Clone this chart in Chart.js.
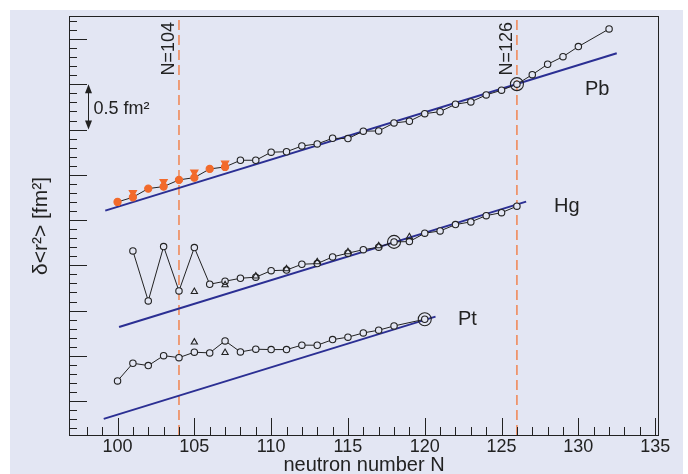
<!DOCTYPE html>
<html>
<head>
<meta charset="utf-8">
<script src="https://cdn.jsdelivr.net/npm/chart.js@4.4.1/dist/chart.umd.min.js"></script>
<style>
  html, body { margin: 0; padding: 0; background: #fff; }
  #wrap { width: 688px; height: 474px; }
</style>
</head>
<body>
<div id="wrap"><canvas id="c" width="688" height="474"></canvas></div>
<script>
// Data (delta <r^2> in fm^2, arbitrary offsets per element)
const xTickLabels = [100, 105, 110, 115, 120, 125, 130, 135];

const pbN  = [100, 101, 102, 103, 104, 105, 106, 107, 108, 109, 110, 111, 112, 113, 114, 115,
              116, 117, 118, 119, 120, 121, 122, 123, 124, 125, 126, 127, 128, 129, 130, 132];
const pbR2 = [2.700, 2.752, 2.848, 2.870, 2.944, 2.969, 3.065, 3.087, 3.161, 3.161, 3.250, 3.255,
              3.319, 3.341, 3.404, 3.400, 3.482, 3.485, 3.573, 3.592, 3.676, 3.698, 3.780, 3.806,
              3.883, 3.935, 4.002, 4.107, 4.222, 4.306, 4.417, 4.612];
const pbIsoN  = [101, 103, 105, 107];
const pbIsoR2 = [2.803, 2.925, 3.029, 3.128];
const pbFitN  = [99.2, 132.5];
const pbFit   = [2.604, 4.344];

const hgN  = [101, 102, 103, 104, 105, 106, 107, 108, 109, 110, 111, 112, 113, 114,
              115, 116, 117, 118, 119, 120, 121, 122, 123, 124, 125, 126];
const hgR2 = [2.159, 1.607, 2.207, 1.717, 2.196, 1.791, 1.824, 1.857, 1.869, 1.941, 1.947, 2.012,
              2.019, 2.093, 2.134, 2.173, 2.200, 2.259, 2.262, 2.355, 2.380, 2.450, 2.480, 2.549,
              2.582, 2.653];
const hgIsoN  = [105, 107, 109, 111, 113, 115, 117, 119];
const hgIsoR2 = [1.709, 1.783, 1.880, 1.960, 2.037, 2.148, 2.214, 2.314];
const hgFitN  = [100.1, 126.6];
const hgFit   = [1.319, 2.704];

const ptN  = [100, 101, 102, 103, 104, 105, 106, 107, 108, 109, 110, 111, 112, 113, 114, 115,
              116, 117, 118, 120];
const ptR2 = [0.723, 0.918, 0.892, 1.002, 0.980, 1.040, 1.032, 1.165, 1.043, 1.073, 1.069, 1.069,
              1.118, 1.117, 1.179, 1.206, 1.253, 1.283, 1.330, 1.404];
const ptIsoN  = [105, 107];
const ptIsoR2 = [1.150, 1.035];
const ptFitN  = [99.1, 120.7];
const ptFit   = [0.303, 1.433];

// reference isotopes (double circles)
const refN  = [126, 118, 120];
const refR2 = [4.002, 2.259, 1.404];

const magicN = [104, 126];

const X_MIN = 96.84, X_MAX = 135.25;
const Y_MIN = 0.125, Y_MAX = 4.755;

const BG = '#e3e6f3';
const ORANGE = '#f26a2b';
const DASH = '#f08a5a';
const BLUE = '#2b2f93';
const INK = '#222222';
const FONT = '"Liberation Sans Narrow", "Arial Narrow", "Liberation Sans", sans-serif';

const pts = (xs, ys) => xs.map((v, i) => ({ x: v, y: ys[i] }));

function series(xs, ys, extra) {
  return Object.assign({
    data: pts(xs, ys),
    showLine: true,
    borderColor: INK,
    borderWidth: 1,
    pointRadius: 3.2,
    pointBorderWidth: 1.1,
    pointBorderColor: INK,
    pointBackgroundColor: BG,
    order: 3
  }, extra || {});
}

function fit(xs, ys) {
  return {
    data: pts(xs, ys),
    showLine: true,
    borderColor: BLUE,
    borderWidth: 2,
    pointRadius: 0,
    order: 6
  };
}

function isomers(xs, ys, extra) {
  return Object.assign({
    data: pts(xs, ys),
    showLine: false,
    pointStyle: 'triangle',
    pointRadius: 3.6,
    pointBorderWidth: 1.1,
    pointBorderColor: INK,
    pointBackgroundColor: 'rgba(0,0,0,0)',
    order: 2
  }, extra || {});
}

const datasets = [
  series(pbN, pbR2, {
    pointRadius: pbN.map(n => n <= 107 ? 3.6 : 3.2),
    pointBackgroundColor: pbN.map(n => n <= 107 ? ORANGE : BG),
    pointBorderColor: pbN.map(n => n <= 107 ? ORANGE : INK)
  }),
  isomers(pbIsoN, pbIsoR2, {
    rotation: 180, pointRadius: 4.2,
    pointBackgroundColor: ORANGE, pointBorderColor: ORANGE, order: 4
  }),
  fit(pbFitN, pbFit),
  series(hgN, hgR2),
  isomers(hgIsoN, hgIsoR2),
  fit(hgFitN, hgFit),
  series(ptN, ptR2),
  isomers(ptIsoN, ptIsoR2),
  fit(ptFitN, ptFit),
  {
    data: pts(refN, refR2),
    showLine: false,
    pointRadius: 6.5,
    pointBorderWidth: 1.1,
    pointBorderColor: INK,
    pointBackgroundColor: 'rgba(0,0,0,0)',
    order: 1
  }
];

magicN.forEach(n => {
  datasets.push({
    data: [{ x: n, y: Y_MIN }, { x: n, y: Y_MAX }],
    showLine: true,
    borderColor: DASH,
    borderWidth: 1.6,
    borderDash: [10, 5],
    pointRadius: 0,
    order: 8
  });
});

// background panel, frame, inward ticks and all the text
const decorations = {
  id: 'decorations',
  beforeDraw(chart) {
    const ctx = chart.ctx;
    ctx.save();
    ctx.fillStyle = '#ffffff';
    ctx.fillRect(0, 0, chart.width, chart.height);
    ctx.fillStyle = BG;
    ctx.fillRect(10, 10, 673, 464);
    ctx.restore();
  },
  afterDatasetsDraw(chart) {
    const { ctx, chartArea: a, scales: { x, y } } = chart;
    ctx.save();
    ctx.strokeStyle = INK;
    ctx.lineWidth = 1;
    ctx.strokeRect(a.left + 0.5, a.top + 0.5, a.right - a.left - 1, a.bottom - a.top);

    // x ticks pointing up into the plot
    ctx.beginPath();
    for (let n = Math.ceil(X_MIN) + 1; n <= X_MAX; n++) {
      const px = Math.round(x.getPixelForValue(n)) + 0.5;
      const len = n % 5 === 0 ? 17 : 8;
      ctx.moveTo(px, a.bottom);
      ctx.lineTo(px, a.bottom - len);
    }
    // y ticks pointing right
    for (let k = Math.ceil(Y_MIN * 10); k <= Math.floor(Y_MAX * 10); k++) {
      const py = Math.round(y.getPixelForValue(k / 10)) + 0.5;
      const len = k % 5 === 0 ? 18 : 8;
      ctx.moveTo(a.left, py);
      ctx.lineTo(a.left + len, py);
    }
    ctx.stroke();

    // x tick labels
    ctx.fillStyle = INK;
    ctx.font = '18px ' + FONT;
    ctx.textAlign = 'center';
    ctx.textBaseline = 'alphabetic';
    xTickLabels.forEach(v => ctx.fillText(String(v), x.getPixelForValue(v), 452));

    // axis titles
    ctx.font = '20px ' + FONT;
    ctx.fillText('neutron number N', (a.left + a.right) / 2, 471);
    ctx.save();
    ctx.translate(47, 226);
    ctx.rotate(-Math.PI / 2);
    ctx.font = '21px ' + FONT;
    ctx.fillText('\u03B4<r\u00B2> [fm\u00B2]', 0, 0);
    ctx.restore();

    // magic number labels
    ctx.font = '18px ' + FONT;
    magicN.forEach(n => {
      ctx.save();
      ctx.translate(x.getPixelForValue(n) - 5, a.top + 6);
      ctx.rotate(-Math.PI / 2);
      ctx.textAlign = 'right';
      ctx.fillText('N=' + n, 0, 0);
      ctx.restore();
    });

    // element labels
    ctx.font = '20px ' + FONT;
    ctx.textAlign = 'left';
    ctx.fillText('Pb', 585, 95);
    ctx.fillText('Hg', 554, 212);
    ctx.fillText('Pt', 458, 325);

    // 0.5 fm^2 scale arrow
    const ax = a.left + 19.5;
    const y1 = y.getPixelForValue(4.0), y2 = y.getPixelForValue(3.5);
    ctx.beginPath();
    ctx.moveTo(ax, y1 + 6);
    ctx.lineTo(ax, y2 - 6);
    ctx.stroke();
    ctx.beginPath();
    ctx.moveTo(ax, y1); ctx.lineTo(ax - 3.5, y1 + 9); ctx.lineTo(ax + 3.5, y1 + 9); ctx.closePath();
    ctx.moveTo(ax, y2); ctx.lineTo(ax - 3.5, y2 - 9); ctx.lineTo(ax + 3.5, y2 - 9); ctx.closePath();
    ctx.fill();
    ctx.font = '18px ' + FONT;
    ctx.fillText('0.5 fm\u00B2', ax + 5, (y1 + y2) / 2 + 7);
    ctx.restore();
  }
};

new Chart(document.getElementById('c').getContext('2d'), {
  type: 'scatter',
  data: { datasets: datasets },
  options: {
    responsive: false,
    animation: false,
    layout: { padding: { left: 69, right: 29, top: 16, bottom: 39 } },
    scales: {
      x: { type: 'linear', min: X_MIN, max: X_MAX, display: false },
      y: { type: 'linear', min: Y_MIN, max: Y_MAX, display: false }
    },
    plugins: {
      legend: { display: false },
      tooltip: { enabled: false }
    },
    elements: { line: { tension: 0 } }
  },
  plugins: [decorations]
});
</script>
</body>
</html>
